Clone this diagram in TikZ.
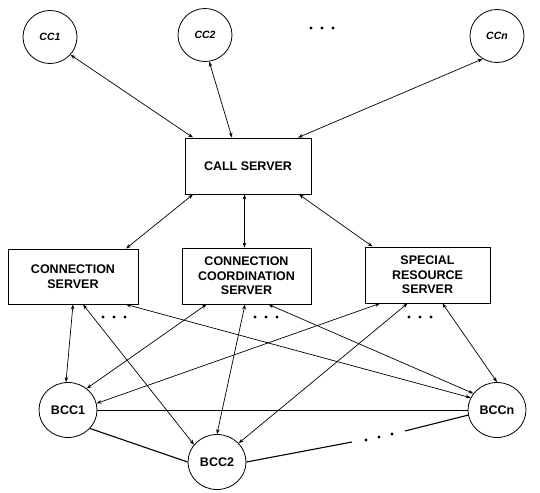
\documentclass[tikz,border=0pt]{standalone}
\usepackage{fontspec}
\setmainfont{Liberation Sans}
\usetikzlibrary{shapes.geometric,arrows.meta}
\begin{document}
\begin{tikzpicture}[x=1pt,y=-1pt,
 ccnode/.style={ellipse,draw,line width=0.8pt,minimum width=54pt,minimum height=53pt,inner sep=0pt,font=\fontsize{10.5}{12}\selectfont\bfseries\itshape},
 bccnode/.style={ellipse,draw,line width=0.8pt,minimum width=58pt,minimum height=55pt,inner sep=0pt,font=\fontsize{12.5}{13}\selectfont\bfseries},
 srvnode/.style={rectangle,draw,line width=0.9pt,align=center,inner sep=0pt,font=\fontsize{12.5}{14.5}\selectfont\bfseries},
 link/.style={{Stealth[length=5pt,width=3.6pt]}-{Stealth[length=5pt,width=3.6pt]},line width=0.7pt},
 tie/.style={line width=1.1pt},
 dotmark/.style={fill=black}
]
\useasboundingbox (0,0) rectangle (540,492);
% top row
\node[ccnode] (cc1) at (50,37) {CC1};
\node[ccnode] (cc2) at (205,35) {CC2};
\node[ccnode] (ccn) at (497,36) {CCn};
\foreach \x in {311,322,333} \fill[dotmark] (\x,28) circle (1.6pt);
% servers
\node[srvnode,minimum width=126pt,minimum height=56pt] (call) at (248,166) {CALL SERVER};
\node[srvnode,minimum width=130pt,minimum height=55pt] (cs) at (73,276.5) {CONNECTION\\SERVER};
\node[srvnode,minimum width=129pt,minimum height=56pt] (ccs) at (246.5,276) {CONNECTION\\COORDINATION\\SERVER};
\node[srvnode,minimum width=125pt,minimum height=56pt] (srs) at (427.5,275) {SPECIAL\\RESOURCE\\SERVER};
% bottom row
\node[bccnode] (bcc1) at (68,410) {BCC1};
\node[bccnode] (bcc2) at (217,462) {BCC2};
\node[bccnode] (bccn) at (497,410) {BCCn};
% CC to call server
\draw[link] (cc1.-41) -- ([xshift=-55pt]call.north);
\draw[link] (cc2.-81) -- ([xshift=-16pt]call.north);
\draw[link] (ccn.-122) -- ([xshift=50pt]call.north);
% call server to servers
\draw[link] ([xshift=-55pt]call.south) -- ([xshift=53pt]cs.north);
\draw[link] ([xshift=-2pt]ccs.north) -- ([xshift=-2pt]ccs.north |- call.south);
\draw[link] ([xshift=51pt]call.south) -- ([xshift=-55pt]srs.north);
% servers to BCCs
\draw[link] (cs.south) -- ([xshift=-2pt]bcc1.north);
\draw[link] ([xshift=10pt]cs.south) -- (bcc2.143);
\draw[link] ([xshift=53pt]cs.south) -- (bccn.155);
\draw[link] ([xshift=-40pt]ccs.south) -- (bcc1.49);
\draw[link] ([xshift=-1.5pt]ccs.south) -- (bcc2.north);
\draw[link] ([xshift=22pt]ccs.south) -- (bccn.145);
\draw[link] ([xshift=-47.5pt]srs.south) -- (bcc1.13);
\draw[link] ([xshift=-20pt]srs.south) -- (bcc2.41);
\draw[link] ([xshift=15pt]srs.south) -- (bccn.north);
\foreach \x in {103,114,125} \fill[dotmark] (\x,317) circle (1.6pt);
\foreach \x in {255,266,277} \fill[dotmark] (\x,317) circle (1.6pt);
\foreach \x in {409,420,431} \fill[dotmark] (\x,317) circle (1.6pt);
% BCC ties
\draw[line width=0.9pt] (bcc1.east) -- (bccn.west);
\draw[tie] (bcc1.-40) -- (bcc2.west);
\coordinate (ga) at (352,442);
\coordinate (gb) at (405,431);
\draw[tie] (bcc2.east) -- (ga);
\draw[tie] (gb) -- (bccn.190);
\fill[dotmark] (366,440) circle (1.6pt);
\fill[dotmark] (379,437) circle (1.6pt);
\fill[dotmark] (392,434) circle (1.6pt);
\end{tikzpicture}
\end{document}
